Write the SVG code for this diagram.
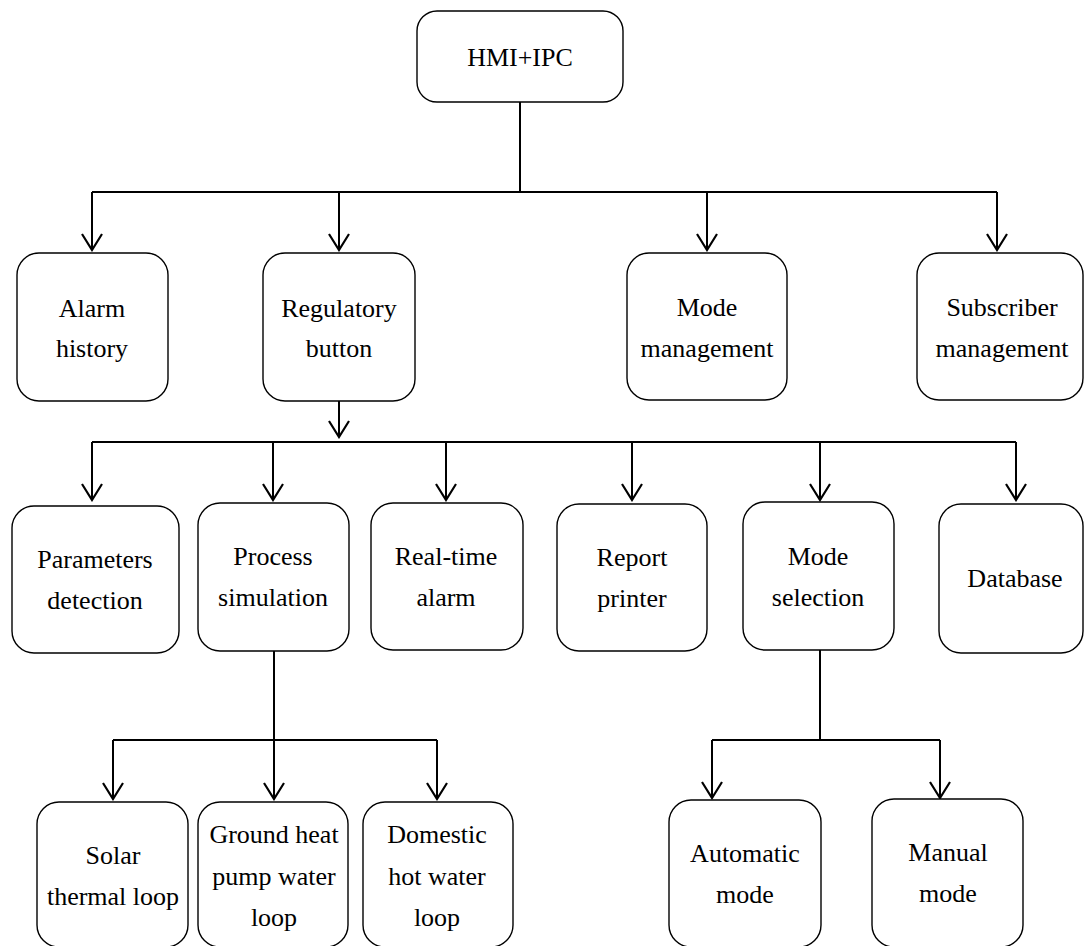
<svg xmlns="http://www.w3.org/2000/svg" width="1084" height="946" viewBox="0 0 1084 946">
<style>
.box{fill:#fff;stroke:#000;stroke-width:1.4}
.t{font-family:"Liberation Serif","Times New Roman",serif;font-size:26px;fill:#000;text-anchor:middle}
.c{fill:none;stroke:#000;stroke-width:2}
.a{marker-end:url(#arr)}
</style>
<defs>
<marker id="arr" markerUnits="userSpaceOnUse" viewBox="-2 -12 20 24" refX="16" refY="0" markerWidth="20" markerHeight="24" orient="auto">
<path d="M0,-10 L16,0 L0,10" fill="none" stroke="#000" stroke-width="2.2"/>
</marker>
</defs>
<rect width="1084" height="946" fill="#fff"/>
<g id="connectors">
<path class="c" d="M520,102 V192 M92,192 H997"/>
<path class="c a" d="M92,192 V250"/>
<path class="c a" d="M339,192 V250"/>
<path class="c a" d="M707,192 V250"/>
<path class="c a" d="M997,192 V250"/>
<path class="c a" d="M339,401 V437"/>
<path class="c" d="M92,442 H1016"/>
<path class="c a" d="M92,442 V500"/>
<path class="c a" d="M273,442 V500"/>
<path class="c a" d="M446,442 V500"/>
<path class="c a" d="M632,442 V500"/>
<path class="c a" d="M820,442 V500"/>
<path class="c a" d="M1016,442 V500"/>
<path class="c" d="M274,651 V740 M113,740 H437"/>
<path class="c a" d="M113,740 V799"/>
<path class="c a" d="M274,740 V799"/>
<path class="c a" d="M437,740 V799"/>
<path class="c" d="M820,650 V740 M712,740 H940"/>
<path class="c a" d="M712,740 V798"/>
<path class="c a" d="M940,740 V798"/>
</g>
<g id="hmi"><rect class="box" x="417" y="11" width="206" height="91" rx="20"/><text class="t" x="520" y="66">HMI+IPC</text></g>
<g id="alarm-history"><rect class="box" x="17" y="253" width="151" height="148" rx="22"/><text class="t" x="92" y="317">Alarm</text><text class="t" x="92" y="357">history</text></g>
<g id="regulatory-button"><rect class="box" x="263" y="253" width="152" height="148" rx="22"/><text class="t" x="339" y="317">Regulatory</text><text class="t" x="339" y="357">button</text></g>
<g id="mode-management"><rect class="box" x="627" y="253" width="160" height="147" rx="22"/><text class="t" x="707" y="316">Mode</text><text class="t" x="707" y="357">management</text></g>
<g id="subscriber-management"><rect class="box" x="917" y="253" width="166" height="147" rx="22"/><text class="t" x="1002" y="316">Subscriber</text><text class="t" x="1002" y="357">management</text></g>
<g id="parameters-detection"><rect class="box" x="12" y="506" width="167" height="147" rx="22"/><text class="t" x="95" y="568">Parameters</text><text class="t" x="95" y="609">detection</text></g>
<g id="process-simulation"><rect class="box" x="198" y="503" width="151" height="148" rx="22"/><text class="t" x="273" y="565">Process</text><text class="t" x="273" y="606">simulation</text></g>
<g id="real-time-alarm"><rect class="box" x="371" y="503" width="152" height="147" rx="22"/><text class="t" x="446" y="565">Real-time</text><text class="t" x="446" y="606">alarm</text></g>
<g id="report-printer"><rect class="box" x="557" y="504" width="150" height="147" rx="22"/><text class="t" x="632" y="566">Report</text><text class="t" x="632" y="607">printer</text></g>
<g id="mode-selection"><rect class="box" x="743" y="502" width="151" height="148" rx="22"/><text class="t" x="818" y="565">Mode</text><text class="t" x="818" y="606">selection</text></g>
<g id="database"><rect class="box" x="939" y="504" width="144" height="149" rx="22"/><text class="t" x="1015" y="587">Database</text></g>
<g id="solar-thermal-loop"><rect class="box" x="37" y="802" width="151" height="145" rx="22"/><text class="t" x="113" y="864">Solar</text><text class="t" x="113" y="905">thermal loop</text></g>
<g id="ground-heat-pump-water-loop"><rect class="box" x="198" y="802" width="150" height="145" rx="22"/><text class="t" x="274" y="843">Ground heat</text><text class="t" x="274" y="885">pump water</text><text class="t" x="274" y="926">loop</text></g>
<g id="domestic-hot-water-loop"><rect class="box" x="363" y="802" width="150" height="145" rx="22"/><text class="t" x="437" y="843">Domestic</text><text class="t" x="437" y="885">hot water</text><text class="t" x="437" y="926">loop</text></g>
<g id="automatic-mode"><rect class="box" x="669" y="800" width="152" height="147" rx="22"/><text class="t" x="745" y="862">Automatic</text><text class="t" x="745" y="903">mode</text></g>
<g id="manual-mode"><rect class="box" x="872" y="799" width="151" height="148" rx="22"/><text class="t" x="948" y="861">Manual</text><text class="t" x="948" y="902">mode</text></g>
</svg>
